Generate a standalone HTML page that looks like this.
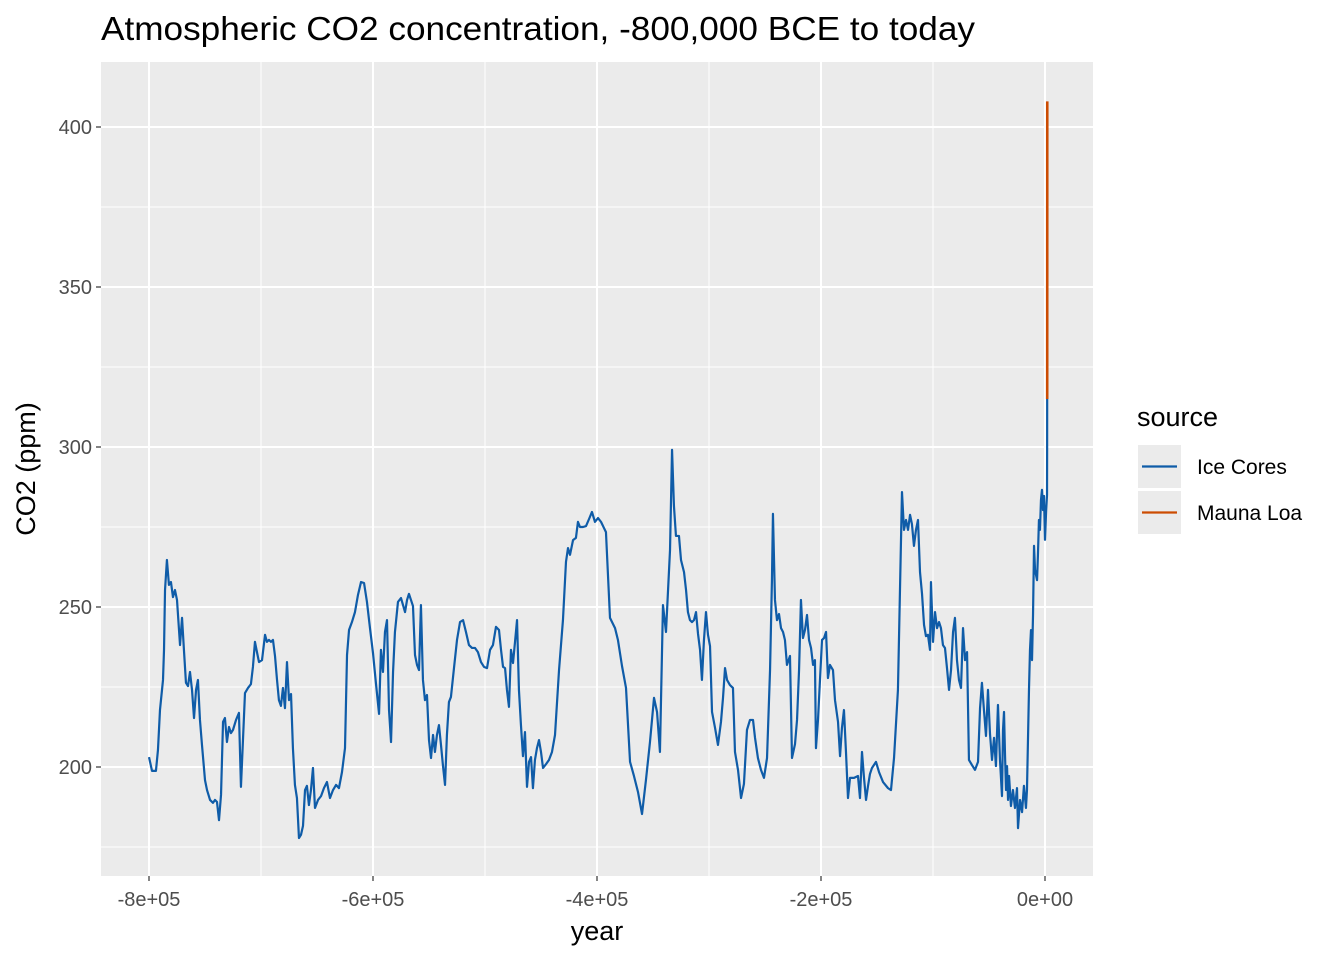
<!DOCTYPE html>
<html><head><meta charset="utf-8"><style>
body{margin:0;background:#fff;width:1344px;height:960px;overflow:hidden}
svg text{font-family:"Liberation Sans",Arial,sans-serif}
</style></head><body>
<svg id="chart" width="1344" height="960" xmlns="http://www.w3.org/2000/svg"></svg>
<script>
// Ice core data: years in thousands (kyr relative to year 0), CO2 ppm
const iceYears=[-800,-797.3,-793.8,-792,-790.2,-787.5,-786.6,-785.7,-784,-782.2,-780.4,-778.6,-776.8,-775,-772.3,-770.5,-768.8,-767,-765.2,-763.4,-761.6,-759.8,-758,-756.3,-754.5,-752.7,-750,-748.2,-745.5,-742.9,-741.1,-739.3,-737.5,-735.7,-733.9,-732.2,-730.4,-728.6,-726.8,-725,-722.3,-719.7,-717.9,-716.1,-714.3,-711.6,-709,-707.2,-705.4,-703.6,-701.8,-699.1,-696.4,-694.7,-692.9,-691.1,-689.3,-687.5,-685.7,-684,-682.2,-680.4,-678.6,-676.8,-675,-673.2,-671.5,-669.7,-667.9,-666.1,-664.3,-662.5,-660.7,-659,-657.2,-655.4,-653.6,-651.8,-649.1,-646.4,-643.8,-641.1,-638.4,-635.7,-633,-630.4,-627.7,-625,-623.2,-621.4,-618.8,-616.1,-613.4,-610.7,-608,-605.4,-602.7,-600,-597.3,-594.6,-592.9,-591.1,-589.3,-587.5,-585.7,-583.9,-582.1,-580.4,-577.7,-575,-573.2,-571.4,-569.6,-567.9,-566.1,-564.3,-562.5,-560.7,-558.9,-557.2,-555.4,-553.6,-551.8,-550,-548.2,-546.4,-544.7,-542.9,-541.1,-539.3,-537.5,-535.7,-534,-532.2,-530.4,-527.7,-525,-522.3,-519.6,-517,-514.3,-511.6,-508.9,-506.3,-503.6,-500.9,-498.2,-495.5,-492.9,-490.2,-487.5,-485.7,-483.9,-482.1,-480.4,-478.6,-476.8,-475,-473.2,-471.4,-469.7,-467.9,-466.1,-464.3,-462.5,-460.7,-458.9,-457.2,-455.4,-453.6,-451.8,-450,-448.2,-445.5,-442.9,-440.2,-437.5,-433.9,-430.4,-427.7,-425.9,-424.1,-421.4,-418.8,-417,-415.2,-412.5,-409.8,-407.1,-404.5,-401.8,-399.1,-396.4,-393.8,-392,-388.4,-383.9,-381.3,-377.7,-374.1,-370.5,-367,-363.4,-359.8,-356.3,-352.7,-349.1,-346.4,-343.8,-341.1,-338.4,-334.8,-333,-331.3,-329.5,-326.8,-325,-322.3,-320.5,-318.8,-317,-315.2,-313.4,-311.6,-309.8,-308,-306.3,-304.5,-302.7,-300.9,-299.1,-297.3,-294.6,-292,-289.3,-287.5,-285.7,-283.9,-281.3,-278.6,-276.8,-274.1,-271.4,-268.8,-266.1,-263.4,-260.7,-258.9,-256.3,-253.6,-250.9,-248.2,-245.5,-243.8,-242.9,-241.1,-239.3,-237.5,-235.7,-233.9,-232.2,-230.4,-227.7,-225.9,-223.2,-221.4,-219.6,-217.9,-216.1,-214.3,-212.5,-210.7,-208.9,-207.1,-205.4,-204.5,-202.7,-200.9,-199.1,-197.3,-195.5,-193.8,-192,-189.3,-187.5,-184.8,-183,-181.3,-179.5,-177.7,-175.9,-174.1,-170.5,-167,-165.2,-163.4,-161.6,-159.8,-158,-156.3,-154.5,-150.9,-148.2,-144.6,-140.2,-137.5,-134.8,-131.3,-127.7,-125.9,-124.1,-122.3,-120.5,-118.8,-117,-115.2,-113.4,-111.6,-109.8,-108,-106.3,-104.5,-102.7,-101.8,-100,-98.2,-96.4,-94.6,-92.9,-91.1,-89.3,-87.5,-85.7,-83.9,-82.1,-80.4,-78.6,-76.8,-75,-73.2,-71.4,-69.6,-67.9,-65.2,-62.5,-59.8,-58,-56.3,-54.5,-52.7,-50.9,-49.1,-47.3,-45.5,-43.8,-42,-40.2,-38.4,-37.5,-36.6,-35.7,-34.8,-33.9,-33,-32.1,-30.4,-28.6,-26.8,-25,-24.1,-22.3,-20.5,-18.8,-17,-16.1,-14.3,-13.4,-12.5,-11.6,-10.7,-9.8,-8.9,-7.1,-6.3,-5.4,-4.5,-3.6,-2.7,-1.8,-0.9,0,1.0,1.8,1.9,1.95];
const icePpm=[203.1,198.8,198.8,205.3,217.8,227.2,236.6,255.3,264.7,256.9,257.8,253.1,255.3,252.2,238.1,246.6,236.6,226.3,225.3,229.7,224.1,215.3,224.1,227.2,214.7,206.9,195.9,192.8,189.7,188.8,189.7,189.1,183.4,191.3,214.1,215.3,207.8,212.5,210.6,211.6,214.7,216.9,193.8,208.4,223.1,224.7,225.9,231.3,239.1,235.9,232.8,233.4,241.3,239.1,239.7,239.1,239.7,234.7,227.2,220.9,219.1,224.7,218.4,232.8,220.9,222.8,205.9,194.4,190.3,177.8,178.8,181.6,192.8,194.1,188.1,192.8,199.7,187.2,189.7,190.9,193.4,195.3,190.3,192.8,194.4,193.4,198.4,205.9,235,242.8,245.3,248.4,253.8,257.8,257.5,251.6,243.4,235.6,225.9,216.6,236.6,229.7,242.2,245.9,217.8,207.8,229.7,242.2,251.6,252.8,250.6,248.4,252.2,254.1,252.2,250.3,235,231.9,230.3,250.6,227.2,220.9,222.5,208.4,202.8,210,204.7,210,213.1,206.9,200.3,194.4,210,220.3,221.9,230.9,239.7,245.3,245.9,242.2,238.1,237.2,237.2,235.9,232.8,231.3,230.9,236.6,238.1,243.8,242.8,236.6,231.3,230.9,224.1,218.8,236.6,232.5,239.1,245.9,224.1,213.1,203.4,210.9,193.8,201.6,203.1,193.4,202.2,205.9,208.4,204.7,199.7,200.9,202.2,204.7,210,230.3,245.9,264.1,268.4,266.3,270.9,271.6,276.6,275,275,275.3,277.5,279.7,276.6,277.8,276.6,274.7,273.4,246.6,243.4,239.7,231.6,224.7,201.6,197.2,192.2,185.3,195.9,207.8,221.6,217.2,204.7,250.6,242.2,267.8,299.1,281.6,272.2,272.2,264.7,260.9,255.3,248.4,245.9,245.3,245.9,248.4,241.6,236.6,227.2,239.7,248.4,241.3,237.8,217.2,212.2,206.9,214.1,221.6,230.9,227.2,225.6,224.7,204.7,199.1,190.3,194.7,211.6,214.7,214.7,209.1,202.8,199.1,196.6,202.8,230.3,258.4,279.1,252.2,245.9,247.8,243.4,242.2,239.7,231.9,234.7,202.8,207.2,214.7,230.3,252.2,240.3,242.8,247.5,239.7,237.2,231.9,233.4,205.9,214.7,227.2,239.7,240.3,242.2,227.8,231.9,230.3,220.9,214.1,203.4,212.2,217.8,204.7,190.3,196.6,196.6,197.2,190.3,204.7,196.6,189.7,194.1,197.8,199.7,201.6,198.4,195.3,193.4,192.8,202.8,224.1,285.9,274.1,277.2,274.1,278.8,275.9,269.1,274.1,277.2,260.9,254.1,244.4,240.9,241.3,236.6,257.8,239.1,248.4,243.4,245.3,243.4,238.1,237.2,230.9,224.1,230.3,242.2,246.6,233.4,227.2,224.7,243.4,233.4,235.9,202.2,200.6,199.1,201.6,218.4,226.3,217.8,209.7,224.1,210.3,202.2,209.1,200.3,219.4,202.2,190.9,211.6,217.2,203.8,192.8,200.3,189.7,197.2,187.8,192.8,187.2,193.4,180.9,189.7,185.9,194.1,187.2,192.8,224.1,236.6,242.8,233.4,247.5,269.1,261.6,258.4,266.3,277.2,274.1,283.4,286.6,280.3,284.7,271,280,285,300,316];
// Mauna Loa: calendar years (CE) and ppm
const mlYears=[1958,1965,1970,1975,1980,1985,1990,1995,2000,2005,2010,2015,2018];
const mlPpm=[315,320,325,331,338,346,354,361,369,379,389,400,408];
const xTicks=[-800000,-600000,-400000,-200000,0];
const xTickLabels=["-8e+05","-6e+05","-4e+05","-2e+05","0e+00"];
const yTicks=[200,250,300,350,400];

const svg=document.getElementById('chart');
const NS='http://www.w3.org/2000/svg';
const P={l:101,r:1093,t:62,b:876};
const xs=v=>149+(v+800000)*224/200000;
const ys=v=>767-(v-200)*3.2;
function el(tag,attrs,parent){const e=document.createElementNS(NS,tag);for(const k in attrs)e.setAttribute(k,attrs[k]);(parent||svg).appendChild(e);return e;}

let bg=el('rect',{x:P.l,y:P.t,width:P.r-P.l,height:P.b-P.t,fill:'#ebebeb'});


for(let i=0;i<xTicks.length;i++){
  const X=xs(xTicks[i]-100000);let g=el('line',{x1:X,x2:X,y1:P.t,y2:P.b,stroke:'#fff','stroke-width':1});
  
  
}
for(const m of [175,225,275,325,375]){const Y=ys(m);let g=el('line',{x1:P.l,x2:P.r,y1:Y,y2:Y,stroke:'#fff','stroke-width':1});
  
  }
xTicks.forEach((t,i)=>{const X=xs(t);
  let g=el('line',{x1:X,x2:X,y1:P.t,y2:P.b,stroke:'#fff','stroke-width':2});
  
  
  let tk=el('line',{x1:X,x2:X,y1:P.b,y2:P.b+5,stroke:'#333','stroke-width':1.2});
  
  
  let tx=el('text',{x:X,y:P.b+30,'text-anchor':'middle','font-size':20,fill:'#4d4d4d'});tx.textContent=xTickLabels[i];
  
  
});
yTicks.forEach(t=>{const Y=ys(t);
  let g=el('line',{x1:P.l,x2:P.r,y1:Y,y2:Y,stroke:'#fff','stroke-width':2});
  
  
  let tk=el('line',{x1:P.l-5,x2:P.l,y1:Y,y2:Y,stroke:'#333','stroke-width':1.2});
  
  
  let tx=el('text',{x:P.l-9,y:Y+7,'text-anchor':'end','font-size':20,fill:'#4d4d4d'});tx.textContent=t;
  
  
});
let d1=iceYears.map((y,i)=>(i?'L':'M')+xs(y*1000).toFixed(2)+' '+ys(icePpm[i]).toFixed(2)).join(' ');
let p1=el('path',{d:d1,fill:'none',stroke:'#0f5ca8','stroke-width':2.2,'stroke-linejoin':'round'});


let d2=mlYears.map((y,i)=>(i?'L':'M')+xs(y).toFixed(2)+' '+ys(mlPpm[i]).toFixed(2)).join(' ');
let p2=el('path',{d:d2,fill:'none',stroke:'#cc4c02','stroke-width':2.6});


let tt=el('text',{x:101,y:40,'font-size':33,fill:'#000',textLength:874,lengthAdjust:'spacingAndGlyphs'});tt.textContent='Atmospheric CO2 concentration, -800,000 BCE to today';


let xl=el('text',{x:597,y:940,'text-anchor':'middle','font-size':27,fill:'#000'});xl.textContent='year';


let yl=el('text',{x:0,y:0,'text-anchor':'middle','font-size':27,fill:'#000',transform:'translate(35,469) rotate(-90)'});yl.textContent='CO2 (ppm)';


let lt=el('text',{x:1137,y:426,'font-size':27,fill:'#000'});lt.textContent='source';


[['Ice Cores','#0f5ca8',445],['Mauna Loa','#cc4c02',491]].forEach(([n,c,y])=>{
  let g=el('g',{});
  
  
  el('rect',{x:1138,y:y,width:43,height:43,fill:'#ebebeb'},g);
  el('line',{x1:1142,x2:1177,y1:y+21.5,y2:y+21.5,stroke:c,'stroke-width':2.2},g);
  let t=el('text',{x:1197,y:y+29,'font-size':21,fill:'#000'},g);t.textContent=n;
});
</script>
</body></html>
